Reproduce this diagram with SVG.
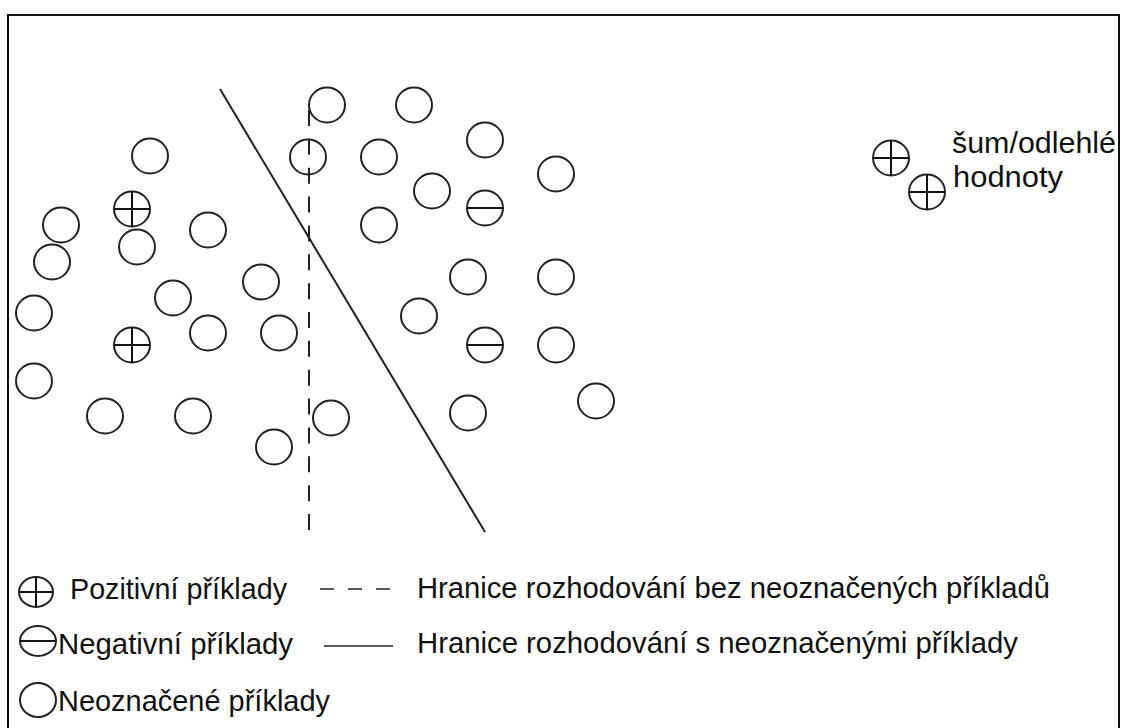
<svg xmlns="http://www.w3.org/2000/svg" width="1124" height="728" viewBox="0 0 1124 728">
<style>
.c{fill:none;stroke:#222;stroke-width:2}
.m{fill:none;stroke:#111;stroke-width:2}
.t{font-family:"Liberation Sans",Arial,sans-serif;font-size:29px;fill:#111}
</style>
<defs>
<ellipse id="u" rx="18" ry="17.5" class="c"/>
<g id="p"><ellipse rx="18" ry="17.5" class="c"/><line x1="-18" y1="0" x2="18" y2="0" class="m"/><line x1="0" y1="-17.5" x2="0" y2="17.5" class="m"/></g>
<g id="n"><ellipse rx="18" ry="17.5" class="c"/><line x1="-18" y1="0" x2="18" y2="0" class="m"/></g>
</defs>
<rect width="1124" height="728" fill="#fff"/>
<path d="M8 740 V15 H1119 V740" fill="none" stroke="#111" stroke-width="2"/>

<g id="connectors">
<line id="boundary-dashed" x1="309" y1="530" x2="309" y2="110" stroke="#222" stroke-width="2" stroke-dasharray="16 12.857"/>
<line id="boundary-solid" x1="220" y1="89" x2="485" y2="532" stroke="#222" stroke-width="2"/>
</g>

<g id="nodes">
<g id="u1"><use href="#u" x="150" y="156"/></g>
<g id="p1"><use href="#p" x="132" y="209"/></g>
<g id="u2"><use href="#u" x="61" y="225"/></g>
<g id="u3"><use href="#u" x="208" y="230"/></g>
<g id="u4"><use href="#u" x="137" y="247"/></g>
<g id="u5"><use href="#u" x="52" y="262"/></g>
<g id="u6"><use href="#u" x="261" y="282"/></g>
<g id="u7"><use href="#u" x="173" y="298"/></g>
<g id="u8"><use href="#u" x="34" y="313"/></g>
<g id="u9"><use href="#u" x="208" y="333"/></g>
<g id="u10"><use href="#u" x="279" y="333"/></g>
<g id="p2"><use href="#p" x="132" y="345"/></g>
<g id="u11"><use href="#u" x="34" y="381"/></g>
<g id="u12"><use href="#u" x="105" y="416"/></g>
<g id="u13"><use href="#u" x="193" y="416"/></g>
<g id="u14"><use href="#u" x="274" y="447"/></g>
<g id="u15"><use href="#u" x="331" y="418"/></g>
<g id="u16"><use href="#u" x="327" y="105"/></g>
<g id="u17"><use href="#u" x="414" y="105"/></g>
<g id="u18"><use href="#u" x="308" y="157"/></g>
<g id="u19"><use href="#u" x="379" y="157"/></g>
<g id="u20"><use href="#u" x="485" y="140"/></g>
<g id="u21"><use href="#u" x="556" y="174"/></g>
<g id="u22"><use href="#u" x="432" y="191"/></g>
<g id="n1"><use href="#n" x="485" y="208"/></g>
<g id="u23"><use href="#u" x="379" y="225"/></g>
<g id="u24"><use href="#u" x="468" y="277"/></g>
<g id="u25"><use href="#u" x="556" y="277"/></g>
<g id="u26"><use href="#u" x="419" y="316"/></g>
<g id="n2"><use href="#n" x="485" y="345"/></g>
<g id="u27"><use href="#u" x="556" y="345"/></g>
<g id="u28"><use href="#u" x="596" y="401"/></g>
<g id="u29"><use href="#u" x="468" y="413"/></g>
</g>

<g id="noise">
<use href="#p" x="891" y="158"/>
<use href="#p" x="927" y="192"/>
<text class="t" x="952" y="153" textLength="164" lengthAdjust="spacingAndGlyphs">šum/odlehlé</text>
<text class="t" x="953" y="187" textLength="110" lengthAdjust="spacingAndGlyphs">hodnoty</text>
</g>

<g id="legend">
<g id="leg-pos">
<ellipse cx="36" cy="592" rx="17" ry="15" class="c"/>
<line x1="19" y1="592" x2="53" y2="592" class="m"/>
<line x1="36" y1="577" x2="36" y2="607" class="m"/>
<text class="t" x="70" y="599" textLength="217" lengthAdjust="spacingAndGlyphs">Pozitivní příklady</text>
</g>
<g id="leg-neg">
<ellipse cx="38" cy="641" rx="18" ry="15" class="c"/>
<line x1="20" y1="641" x2="56" y2="641" class="m"/>
<text class="t" x="58" y="654" textLength="235" lengthAdjust="spacingAndGlyphs">Negativní příklady</text>
</g>
<g id="leg-unl">
<ellipse cx="38" cy="700" rx="18" ry="17" class="c"/>
<text class="t" x="58" y="711" textLength="272" lengthAdjust="spacingAndGlyphs">Neoznačené příklady</text>
</g>
<g id="leg-dashed">
<line x1="320" y1="589" x2="390" y2="589" stroke="#222" stroke-width="1.5" stroke-dasharray="14 14"/>
<text class="t" x="417" y="598" textLength="633" lengthAdjust="spacingAndGlyphs">Hranice rozhodování bez neoznačených příkladů</text>
</g>
<g id="leg-solid">
<line x1="324" y1="646" x2="393" y2="646" stroke="#222" stroke-width="1.5"/>
<text class="t" x="417" y="653" textLength="601" lengthAdjust="spacingAndGlyphs">Hranice rozhodování s neoznačenými příklady</text>
</g>
</g>
</svg>
